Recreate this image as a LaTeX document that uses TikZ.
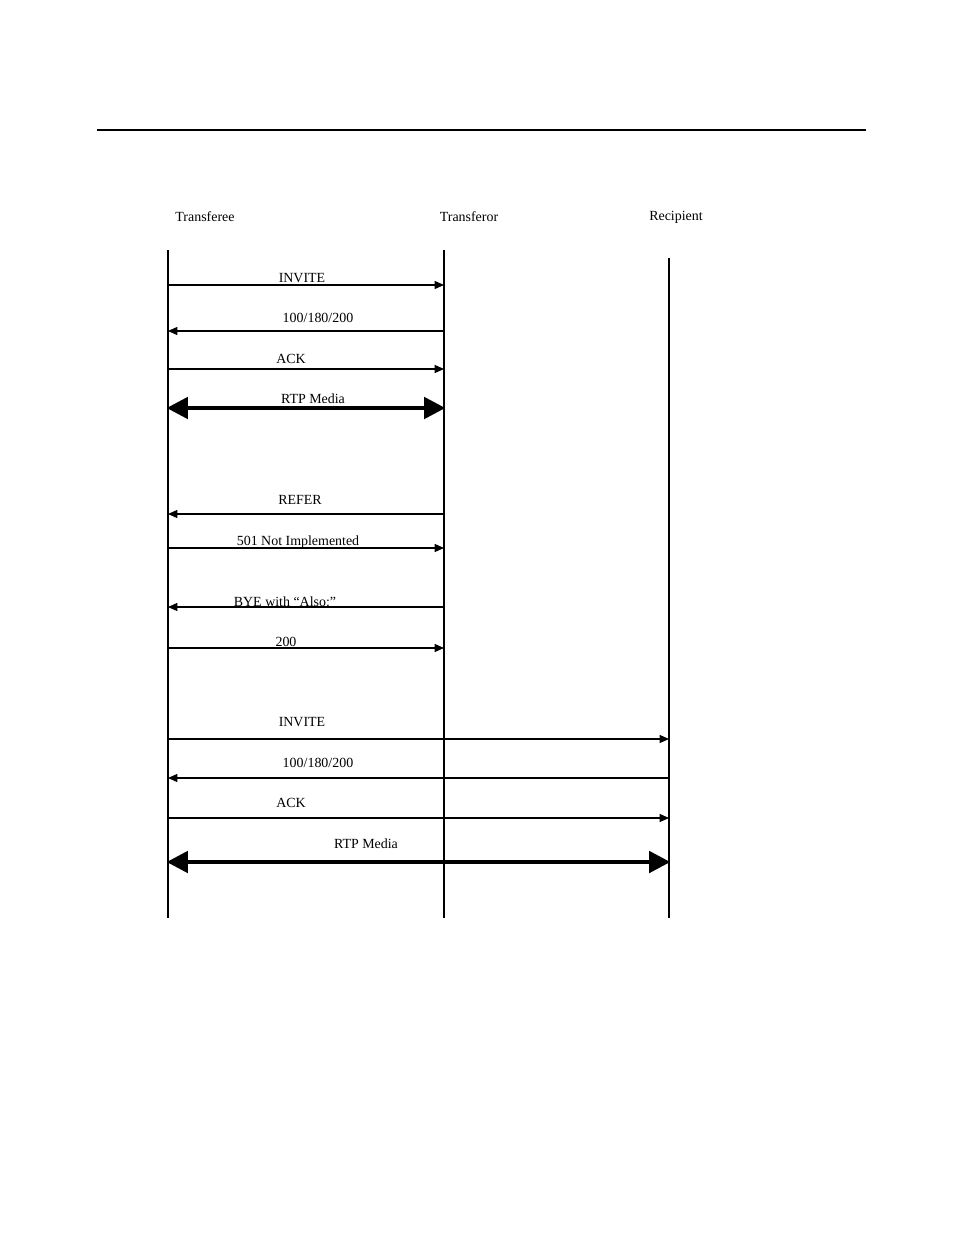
\documentclass[tikz,border=0pt]{standalone}
\usepackage{fontspec}
\setmainfont{Liberation Serif}
\usetikzlibrary{arrows.meta,positioning}

\begin{document}
\begin{tikzpicture}[
  x=0.02646cm, y=-0.02646cm,
  every node/.style={font=\fontsize{10.5}{12}\selectfont, inner sep=1pt},
  life/.style={line width=0.9pt},
  msg/.style={line width=0.9pt, -{Triangle[length=7pt,width=6pt]}},
  media/.style={line width=3.2pt, {Triangle[length=16pt,width=16pt]}-{Triangle[length=16pt,width=16pt]}, shorten <=-1pt, shorten >=-1pt},
  ml/.style={anchor=base},
]
\useasboundingbox (0,0) rectangle (954,1235);
\draw[line width=1.2pt] (97,130) -- (866,130);
% parties
\node (tee) at (205,217) {Transferee};
\node (tor) at (469,217) {Transferor};
\node (rec) at (676,217) {Recipient};
\coordinate (teeT) at (168,250); \coordinate (teeB) at (168,918);
\coordinate (torT) at (444,250); \coordinate (torB) at (444,918);
\coordinate (recT) at (669,258); \coordinate (recB) at (669,918);
\draw[life] (teeT) -- (teeB);
\draw[life] (torT) -- (torB);
\draw[life] (recT) -- (recB);
% first call
\coordinate (a1) at (168,285); \coordinate (b1) at (444,285);
\coordinate (a2) at (168,331); \coordinate (b2) at (444,331);
\coordinate (a3) at (168,369); \coordinate (b3) at (444,369);
\coordinate (a4) at (168,408); \coordinate (b4) at (444,408);
\draw[msg] (a1) -- (b1) node[ml] at (302,282) {INVITE};
\draw[msg] (b2) -- (a2) node[ml] at (318,322) {100/180/200};
\draw[msg] (a3) -- (b3) node[ml] at (291,363) {ACK};
\draw[media] (a4) -- (b4) node[ml] at (313,403) {RTP Media};
% transfer
\coordinate (a5) at (168,514); \coordinate (b5) at (444,514);
\coordinate (a6) at (168,548); \coordinate (b6) at (444,548);
\coordinate (a7) at (168,607); \coordinate (b7) at (444,607);
\coordinate (a8) at (168,648); \coordinate (b8) at (444,648);
\draw[msg] (b5) -- (a5) node[ml] at (300,504) {REFER};
\draw[msg] (a6) -- (b6) node[ml] at (298,545) {501 Not Implemented};
\draw[msg] (b7) -- (a7) node[ml] at (285,606) {BYE with “Also:”};
\draw[msg] (a8) -- (b8) node[ml] at (286,646) {200};
% new call
\coordinate (a9) at (168,739); \coordinate (c9) at (669,739);
\coordinate (a10) at (168,778); \coordinate (c10) at (669,778);
\coordinate (a11) at (168,818); \coordinate (c11) at (669,818);
\coordinate (a12) at (168,862); \coordinate (c12) at (669,862);
\draw[msg] (a9) -- (c9) node[ml] at (302,726) {INVITE};
\draw[msg] (c10) -- (a10) node[ml] at (318,767) {100/180/200};
\draw[msg] (a11) -- (c11) node[ml] at (291,807) {ACK};
\draw[media] (a12) -- (c12) node[ml] at (366,848) {RTP Media};
\end{tikzpicture}
\end{document}
